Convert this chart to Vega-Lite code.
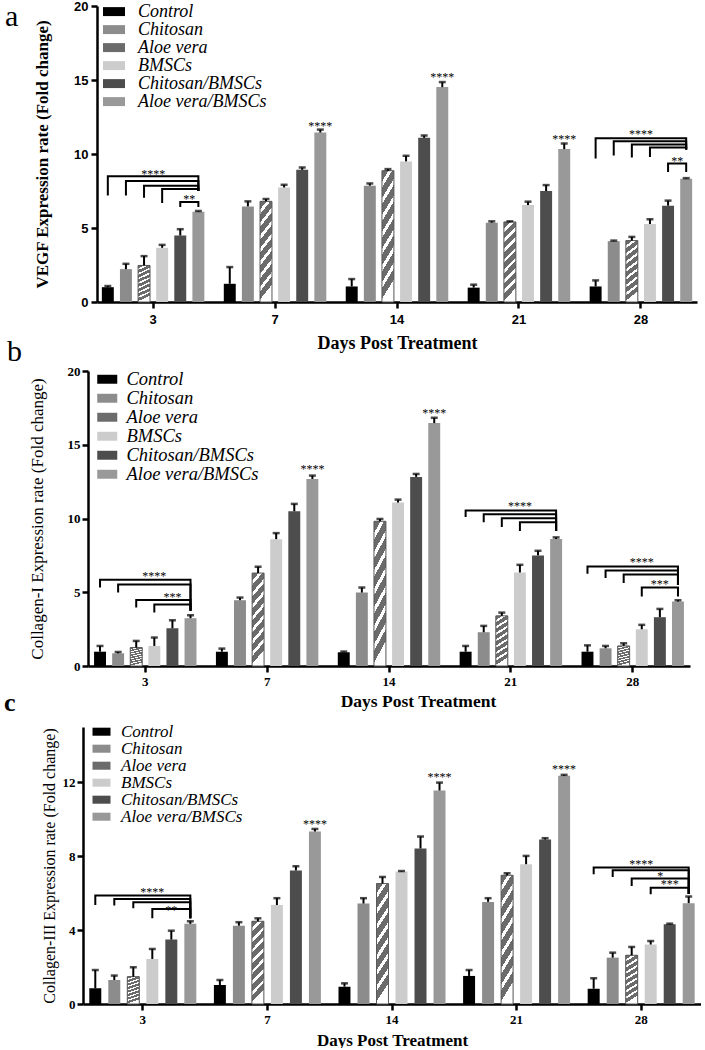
{
  "$schema": "https://vega.github.io/schema/vega-lite/v6.json",
  "padding": {"left": 4, "top": 0, "right": 0, "bottom": 0},
  "config": {
    "view": {"stroke": null},
    "axis": {"labelColor": "black", "domainColor": "black", "tickColor": "black", "titleColor": "black", "grid": false, "domainWidth": 2.5, "tickWidth": 2.5, "tickSize": 6}
  },
  "datasets": {
    "aBars": [
      {"day":"3","group":"Control","mean":1.0,"upper":1.08},
      {"day":"3","group":"Chitosan","mean":2.22,"upper":2.58},
      {"day":"3","group":"Aloe vera","mean":2.47,"upper":3.1},
      {"day":"3","group":"BMSCs","mean":3.66,"upper":3.86},
      {"day":"3","group":"Chitosan/BMSCs","mean":4.49,"upper":4.92},
      {"day":"3","group":"Aloe vera/BMSCs","mean":6.1,"upper":6.15},
      {"day":"7","group":"Control","mean":1.23,"upper":2.36},
      {"day":"7","group":"Chitosan","mean":6.46,"upper":6.8},
      {"day":"7","group":"Aloe vera","mean":6.8,"upper":6.96},
      {"day":"7","group":"BMSCs","mean":7.74,"upper":7.92},
      {"day":"7","group":"Chitosan/BMSCs","mean":8.93,"upper":9.09},
      {"day":"7","group":"Aloe vera/BMSCs","mean":11.45,"upper":11.65},
      {"day":"14","group":"Control","mean":1.05,"upper":1.55},
      {"day":"14","group":"Chitosan","mean":7.86,"upper":8.01},
      {"day":"14","group":"Aloe vera","mean":8.87,"upper":8.98},
      {"day":"14","group":"BMSCs","mean":9.5,"upper":9.88},
      {"day":"14","group":"Chitosan/BMSCs","mean":11.09,"upper":11.25},
      {"day":"14","group":"Aloe vera/BMSCs","mean":14.52,"upper":14.86},
      {"day":"21","group":"Control","mean":0.97,"upper":1.17},
      {"day":"21","group":"Chitosan","mean":5.36,"upper":5.45},
      {"day":"21","group":"Aloe vera","mean":5.41,"upper":5.45},
      {"day":"21","group":"BMSCs","mean":6.55,"upper":6.78},
      {"day":"21","group":"Chitosan/BMSCs","mean":7.5,"upper":7.9},
      {"day":"21","group":"Aloe vera/BMSCs","mean":10.33,"upper":10.71},
      {"day":"28","group":"Control","mean":1.05,"upper":1.46},
      {"day":"28","group":"Chitosan","mean":4.11,"upper":4.15},
      {"day":"28","group":"Aloe vera","mean":4.15,"upper":4.4},
      {"day":"28","group":"BMSCs","mean":5.27,"upper":5.59},
      {"day":"28","group":"Chitosan/BMSCs","mean":6.51,"upper":6.85},
      {"day":"28","group":"Aloe vera/BMSCs","mean":8.33,"upper":8.37}
    ],
    "aBr": [
      {"day":"3","id":1,"group":"Control","v":7.2,"o":1},{"day":"3","id":1,"group":"Control","v":8.5,"o":2},{"day":"3","id":1,"group":"Aloe vera/BMSCs","v":8.5,"o":3},{"day":"3","id":1,"group":"Aloe vera/BMSCs","v":7.5,"o":4},
      {"day":"3","id":2,"group":"Chitosan","v":7.2,"o":1},{"day":"3","id":2,"group":"Chitosan","v":8.17,"o":2},{"day":"3","id":2,"group":"Aloe vera/BMSCs","v":8.17,"o":3},{"day":"3","id":2,"group":"Aloe vera/BMSCs","v":7.5,"o":4},
      {"day":"3","id":3,"group":"Aloe vera","v":7.05,"o":1},{"day":"3","id":3,"group":"Aloe vera","v":7.86,"o":2},{"day":"3","id":3,"group":"Aloe vera/BMSCs","v":7.86,"o":3},{"day":"3","id":3,"group":"Aloe vera/BMSCs","v":7.5,"o":4},
      {"day":"3","id":4,"group":"BMSCs","v":6.69,"o":1},{"day":"3","id":4,"group":"BMSCs","v":7.63,"o":2},{"day":"3","id":4,"group":"Aloe vera/BMSCs","v":7.63,"o":3},{"day":"3","id":4,"group":"Aloe vera/BMSCs","v":7.5,"o":4},
      {"day":"3","id":5,"group":"Chitosan/BMSCs","v":6.42,"o":1},{"day":"3","id":5,"group":"Chitosan/BMSCs","v":6.75,"o":2},{"day":"3","id":5,"group":"Aloe vera/BMSCs","v":6.75,"o":3},{"day":"3","id":5,"group":"Aloe vera/BMSCs","v":6.42,"o":4},
      {"day":"28","id":6,"group":"Control","v":9.7,"o":1},{"day":"28","id":6,"group":"Control","v":11.06,"o":2},{"day":"28","id":6,"group":"Aloe vera/BMSCs","v":11.06,"o":3},{"day":"28","id":6,"group":"Aloe vera/BMSCs","v":10.3,"o":4},
      {"day":"28","id":7,"group":"Chitosan","v":9.9,"o":1},{"day":"28","id":7,"group":"Chitosan","v":10.86,"o":2},{"day":"28","id":7,"group":"Aloe vera/BMSCs","v":10.86,"o":3},{"day":"28","id":7,"group":"Aloe vera/BMSCs","v":10.3,"o":4},
      {"day":"28","id":8,"group":"Aloe vera","v":9.76,"o":1},{"day":"28","id":8,"group":"Aloe vera","v":10.64,"o":2},{"day":"28","id":8,"group":"Aloe vera/BMSCs","v":10.64,"o":3},{"day":"28","id":8,"group":"Aloe vera/BMSCs","v":10.3,"o":4},
      {"day":"28","id":9,"group":"BMSCs","v":9.8,"o":1},{"day":"28","id":9,"group":"BMSCs","v":10.44,"o":2},{"day":"28","id":9,"group":"Aloe vera/BMSCs","v":10.44,"o":3},{"day":"28","id":9,"group":"Aloe vera/BMSCs","v":10.3,"o":4},
      {"day":"28","id":10,"group":"Chitosan/BMSCs","v":8.78,"o":1},{"day":"28","id":10,"group":"Chitosan/BMSCs","v":9.35,"o":2},{"day":"28","id":10,"group":"Aloe vera/BMSCs","v":9.35,"o":3},{"day":"28","id":10,"group":"Aloe vera/BMSCs","v":8.78,"o":4}
    ],
    "aStars": [
      {"day":"3","group":"Aloe vera","v":8.77,"label":"****","pos":"mid"},
      {"day":"3","group":"Chitosan/BMSCs","v":7.09,"label":"**","pos":"mid"},
      {"day":"7","group":"Aloe vera/BMSCs","v":12.03,"label":"****","pos":"bar"},
      {"day":"14","group":"Aloe vera/BMSCs","v":15.35,"label":"****","pos":"bar"},
      {"day":"21","group":"Aloe vera/BMSCs","v":11.13,"label":"****","pos":"bar"},
      {"day":"28","group":"Aloe vera","v":11.47,"label":"****","pos":"mid"},
      {"day":"28","group":"Chitosan/BMSCs","v":9.67,"label":"**","pos":"mid"}
    ],
    "bBars": [
      {"day":"3","group":"Control","mean":0.97,"upper":1.36},
      {"day":"3","group":"Chitosan","mean":0.86,"upper":0.95},
      {"day":"3","group":"Aloe vera","mean":1.25,"upper":1.7},
      {"day":"3","group":"BMSCs","mean":1.36,"upper":1.93},
      {"day":"3","group":"Chitosan/BMSCs","mean":2.56,"upper":3.1},
      {"day":"3","group":"Aloe vera/BMSCs","mean":3.24,"upper":3.44},
      {"day":"7","group":"Control","mean":0.97,"upper":1.18},
      {"day":"7","group":"Chitosan","mean":4.46,"upper":4.64},
      {"day":"7","group":"Aloe vera","mean":6.3,"upper":6.73},
      {"day":"7","group":"BMSCs","mean":8.6,"upper":9.01},
      {"day":"7","group":"Chitosan/BMSCs","mean":10.49,"upper":10.99},
      {"day":"7","group":"Aloe vera/BMSCs","mean":12.68,"upper":12.91},
      {"day":"14","group":"Control","mean":0.93,"upper":0.98},
      {"day":"14","group":"Chitosan","mean":4.98,"upper":5.32},
      {"day":"14","group":"Aloe vera","mean":9.81,"upper":9.97},
      {"day":"14","group":"BMSCs","mean":11.08,"upper":11.28},
      {"day":"14","group":"Chitosan/BMSCs","mean":12.82,"upper":13.02},
      {"day":"14","group":"Aloe vera/BMSCs","mean":16.47,"upper":16.83},
      {"day":"21","group":"Control","mean":0.97,"upper":1.36},
      {"day":"21","group":"Chitosan","mean":2.29,"upper":2.72},
      {"day":"21","group":"Aloe vera","mean":3.4,"upper":3.62},
      {"day":"21","group":"BMSCs","mean":6.34,"upper":6.86},
      {"day":"21","group":"Chitosan/BMSCs","mean":7.5,"upper":7.81},
      {"day":"21","group":"Aloe vera/BMSCs","mean":8.61,"upper":8.72},
      {"day":"28","group":"Control","mean":0.97,"upper":1.4},
      {"day":"28","group":"Chitosan","mean":1.2,"upper":1.36},
      {"day":"28","group":"Aloe vera","mean":1.36,"upper":1.54},
      {"day":"28","group":"BMSCs","mean":2.49,"upper":2.79},
      {"day":"28","group":"Chitosan/BMSCs","mean":3.31,"upper":3.87},
      {"day":"28","group":"Aloe vera/BMSCs","mean":4.37,"upper":4.46}
    ],
    "bBr": [
      {"day":"3","id":1,"group":"Control","v":5.32,"o":1},{"day":"3","id":1,"group":"Control","v":5.84,"o":2},{"day":"3","id":1,"group":"Aloe vera/BMSCs","v":5.84,"o":3},{"day":"3","id":1,"group":"Aloe vera/BMSCs","v":3.74,"o":4},
      {"day":"3","id":2,"group":"Chitosan","v":4.98,"o":1},{"day":"3","id":2,"group":"Chitosan","v":5.53,"o":2},{"day":"3","id":2,"group":"Aloe vera/BMSCs","v":5.53,"o":3},{"day":"3","id":2,"group":"Aloe vera/BMSCs","v":3.74,"o":4},
      {"day":"3","id":3,"group":"Aloe vera","v":3.96,"o":1},{"day":"3","id":3,"group":"Aloe vera","v":4.48,"o":2},{"day":"3","id":3,"group":"Aloe vera/BMSCs","v":4.48,"o":3},{"day":"3","id":3,"group":"Aloe vera/BMSCs","v":3.74,"o":4},
      {"day":"3","id":4,"group":"BMSCs","v":3.62,"o":1},{"day":"3","id":4,"group":"BMSCs","v":4.17,"o":2},{"day":"3","id":4,"group":"Aloe vera/BMSCs","v":4.17,"o":3},{"day":"3","id":4,"group":"Aloe vera/BMSCs","v":3.74,"o":4},
      {"day":"21","id":5,"group":"Control","v":10.1,"o":1},{"day":"21","id":5,"group":"Control","v":10.55,"o":2},{"day":"21","id":5,"group":"Aloe vera/BMSCs","v":10.55,"o":3},{"day":"21","id":5,"group":"Aloe vera/BMSCs","v":9.15,"o":4},
      {"day":"21","id":6,"group":"Chitosan","v":9.74,"o":1},{"day":"21","id":6,"group":"Chitosan","v":10.28,"o":2},{"day":"21","id":6,"group":"Aloe vera/BMSCs","v":10.28,"o":3},{"day":"21","id":6,"group":"Aloe vera/BMSCs","v":9.15,"o":4},
      {"day":"21","id":7,"group":"Aloe vera","v":9.42,"o":1},{"day":"21","id":7,"group":"Aloe vera","v":10.01,"o":2},{"day":"21","id":7,"group":"Aloe vera/BMSCs","v":10.01,"o":3},{"day":"21","id":7,"group":"Aloe vera/BMSCs","v":9.15,"o":4},
      {"day":"21","id":8,"group":"BMSCs","v":9.15,"o":1},{"day":"21","id":8,"group":"BMSCs","v":9.74,"o":2},{"day":"21","id":8,"group":"Aloe vera/BMSCs","v":9.74,"o":3},{"day":"21","id":8,"group":"Aloe vera/BMSCs","v":9.15,"o":4},
      {"day":"28","id":9,"group":"Control","v":6.25,"o":1},{"day":"28","id":9,"group":"Control","v":6.75,"o":2},{"day":"28","id":9,"group":"Aloe vera/BMSCs","v":6.75,"o":3},{"day":"28","id":9,"group":"Aloe vera/BMSCs","v":5.5,"o":4},
      {"day":"28","id":10,"group":"Chitosan","v":5.96,"o":1},{"day":"28","id":10,"group":"Chitosan","v":6.48,"o":2},{"day":"28","id":10,"group":"Aloe vera/BMSCs","v":6.48,"o":3},{"day":"28","id":10,"group":"Aloe vera/BMSCs","v":5.5,"o":4},
      {"day":"28","id":11,"group":"Aloe vera","v":5.62,"o":1},{"day":"28","id":11,"group":"Aloe vera","v":6.21,"o":2},{"day":"28","id":11,"group":"Aloe vera/BMSCs","v":6.21,"o":3},{"day":"28","id":11,"group":"Aloe vera/BMSCs","v":5.5,"o":4},
      {"day":"28","id":12,"group":"BMSCs","v":4.71,"o":1},{"day":"28","id":12,"group":"BMSCs","v":5.32,"o":2},{"day":"28","id":12,"group":"Aloe vera/BMSCs","v":5.32,"o":3},{"day":"28","id":12,"group":"Aloe vera/BMSCs","v":4.71,"o":4}
    ],
    "bStars": [
      {"day":"3","group":"BMSCs","v":6.23,"label":"****","pos":"bar"},
      {"day":"3","group":"Chitosan/BMSCs","v":4.82,"label":"***","pos":"bar"},
      {"day":"7","group":"Aloe vera/BMSCs","v":13.48,"label":"****","pos":"bar"},
      {"day":"14","group":"Aloe vera/BMSCs","v":17.28,"label":"****","pos":"bar"},
      {"day":"21","group":"BMSCs","v":11.0,"label":"****","pos":"bar"},
      {"day":"28","group":"BMSCs","v":7.2,"label":"****","pos":"bar"},
      {"day":"28","group":"Chitosan/BMSCs","v":5.69,"label":"***","pos":"bar"}
    ],
    "cBars": [
      {"day":"3","group":"Control","mean":0.85,"upper":1.84},
      {"day":"3","group":"Chitosan","mean":1.3,"upper":1.54},
      {"day":"3","group":"Aloe vera","mean":1.48,"upper":1.99},
      {"day":"3","group":"BMSCs","mean":2.44,"upper":2.98},
      {"day":"3","group":"Chitosan/BMSCs","mean":3.49,"upper":3.97},
      {"day":"3","group":"Aloe vera/BMSCs","mean":4.34,"upper":4.48},
      {"day":"7","group":"Control","mean":1.03,"upper":1.3},
      {"day":"7","group":"Chitosan","mean":4.24,"upper":4.43},
      {"day":"7","group":"Aloe vera","mean":4.48,"upper":4.64},
      {"day":"7","group":"BMSCs","mean":5.36,"upper":5.73},
      {"day":"7","group":"Chitosan/BMSCs","mean":7.23,"upper":7.46},
      {"day":"7","group":"Aloe vera/BMSCs","mean":9.34,"upper":9.48},
      {"day":"14","group":"Control","mean":0.94,"upper":1.12},
      {"day":"14","group":"Chitosan","mean":5.44,"upper":5.73},
      {"day":"14","group":"Aloe vera","mean":6.52,"upper":6.88},
      {"day":"14","group":"BMSCs","mean":7.17,"upper":7.2},
      {"day":"14","group":"Chitosan/BMSCs","mean":8.42,"upper":9.07},
      {"day":"14","group":"Aloe vera/BMSCs","mean":11.56,"upper":11.99},
      {"day":"21","group":"Control","mean":1.52,"upper":1.84},
      {"day":"21","group":"Chitosan","mean":5.53,"upper":5.73},
      {"day":"21","group":"Aloe vera","mean":6.97,"upper":7.08},
      {"day":"21","group":"BMSCs","mean":7.57,"upper":8.02},
      {"day":"21","group":"Chitosan/BMSCs","mean":8.91,"upper":8.98},
      {"day":"21","group":"Aloe vera/BMSCs","mean":12.36,"upper":12.41},
      {"day":"28","group":"Control","mean":0.83,"upper":1.39},
      {"day":"28","group":"Chitosan","mean":2.51,"upper":2.78},
      {"day":"28","group":"Aloe vera","mean":2.64,"upper":3.09},
      {"day":"28","group":"BMSCs","mean":3.22,"upper":3.41},
      {"day":"28","group":"Chitosan/BMSCs","mean":4.32,"upper":4.35},
      {"day":"28","group":"Aloe vera/BMSCs","mean":5.46,"upper":5.82}
    ],
    "cBr": [
      {"day":"3","id":1,"group":"Control","v":5.36,"o":1},{"day":"3","id":1,"group":"Control","v":5.87,"o":2},{"day":"3","id":1,"group":"Aloe vera/BMSCs","v":5.87,"o":3},{"day":"3","id":1,"group":"Aloe vera/BMSCs","v":4.64,"o":4},
      {"day":"3","id":2,"group":"Chitosan","v":5.33,"o":1},{"day":"3","id":2,"group":"Chitosan","v":5.69,"o":2},{"day":"3","id":2,"group":"Aloe vera/BMSCs","v":5.69,"o":3},{"day":"3","id":2,"group":"Aloe vera/BMSCs","v":4.64,"o":4},
      {"day":"3","id":3,"group":"Aloe vera","v":5.18,"o":1},{"day":"3","id":3,"group":"Aloe vera","v":5.51,"o":2},{"day":"3","id":3,"group":"Aloe vera/BMSCs","v":5.51,"o":3},{"day":"3","id":3,"group":"Aloe vera/BMSCs","v":4.64,"o":4},
      {"day":"3","id":4,"group":"BMSCs","v":4.64,"o":1},{"day":"3","id":4,"group":"BMSCs","v":5.15,"o":2},{"day":"3","id":4,"group":"Aloe vera/BMSCs","v":5.15,"o":3},{"day":"3","id":4,"group":"Aloe vera/BMSCs","v":4.64,"o":4},
      {"day":"28","id":5,"group":"Control","v":7.03,"o":1},{"day":"28","id":5,"group":"Control","v":7.39,"o":2},{"day":"28","id":5,"group":"Aloe vera/BMSCs","v":7.39,"o":3},{"day":"28","id":5,"group":"Aloe vera/BMSCs","v":5.95,"o":4},
      {"day":"28","id":6,"group":"Chitosan","v":6.88,"o":1},{"day":"28","id":6,"group":"Chitosan","v":7.24,"o":2},{"day":"28","id":6,"group":"Aloe vera/BMSCs","v":7.24,"o":3},{"day":"28","id":6,"group":"Aloe vera/BMSCs","v":5.95,"o":4},
      {"day":"28","id":7,"group":"Aloe vera","v":6.39,"o":1},{"day":"28","id":7,"group":"Aloe vera","v":6.79,"o":2},{"day":"28","id":7,"group":"Aloe vera/BMSCs","v":6.79,"o":3},{"day":"28","id":7,"group":"Aloe vera/BMSCs","v":5.95,"o":4},
      {"day":"28","id":8,"group":"BMSCs","v":5.94,"o":1},{"day":"28","id":8,"group":"BMSCs","v":6.3,"o":2},{"day":"28","id":8,"group":"Aloe vera/BMSCs","v":6.3,"o":3},{"day":"28","id":8,"group":"Aloe vera/BMSCs","v":5.95,"o":4}
    ],
    "cStars": [
      {"day":"3","group":"BMSCs","v":6.2,"label":"****","pos":"bar"},
      {"day":"3","group":"Chitosan/BMSCs","v":5.22,"label":"**","pos":"bar"},
      {"day":"7","group":"Aloe vera/BMSCs","v":9.84,"label":"****","pos":"bar"},
      {"day":"14","group":"Aloe vera/BMSCs","v":12.39,"label":"****","pos":"bar"},
      {"day":"21","group":"Aloe vera/BMSCs","v":12.81,"label":"****","pos":"bar"},
      {"day":"28","group":"Aloe vera","v":7.7,"label":"****","pos":"mid"},
      {"day":"28","group":"BMSCs","v":7.06,"label":"*","pos":"mid"},
      {"day":"28","group":"Chitosan/BMSCs","v":6.58,"label":"***","pos":"bar"}
    ]
  },
  "columns": 1,
  "spacing": -15,
  "resolve": {"scale": {"x": "independent", "y": "independent", "xOffset": "independent", "color": "independent"}, "legend": {"color": "independent"}},
  "concat": [
    {
      "width": 614, "height": 296,
      "title": {"text": "a", "anchor": "start", "frame": "group", "orient": "top", "dx": -78, "dy": 56, "offset": 0, "font": "Liberation Serif", "fontSize": 30, "fontWeight": "normal", "color": "black", "baseline": "alphabetic"},
      "layer": [
        {
          "data": {"name": "aBars"},
          "mark": {"type": "bar"},
          "encoding": {
            "x": {"field": "day", "type": "nominal", "title": "Days Post Treatment", "scale": {"domain": ["3","7","14","21","28"], "range": [14, 614], "paddingInner": 0.1, "paddingOuter": 0.01},
                  "axis": {"labelAngle": 0, "labelFont": "Liberation Sans", "labelFontWeight": "bold", "labelFontSize": 13, "labelPadding": 5, "titleFont": "Liberation Serif", "titleFontSize": 18, "titleFontWeight": "bold", "titlePadding": 8, "titleX": 314}},
            "xOffset": {"field": "group", "type": "nominal", "scale": {"domain": ["Control","Chitosan","Aloe vera","BMSCs","Chitosan/BMSCs","Aloe vera/BMSCs"], "paddingInner": 0.34, "paddingOuter": 0.2}},
            "y": {"field": "mean", "type": "quantitative", "title": "VEGF Expression rate (Fold change)", "scale": {"domain": [0, 20], "nice": false},
                  "axis": {"offset": -14, "values": [0,5,10,15,20], "labelFont": "Liberation Sans", "labelFontWeight": "bold", "labelFontSize": 13, "labelPadding": 3, "titleFont": "Liberation Serif", "titleFontSize": 17, "titleFontWeight": "bold", "titlePadding": 22}},
            "color": {"field": "group", "type": "nominal",
                      "scale": {"domain": ["Control","Chitosan","Aloe vera","BMSCs","Chitosan/BMSCs","Aloe vera/BMSCs"], "range": ["#000000", "#8c8c8c", "#6b6b6b", "#cccccc", "#4d4d4d", "#999999"]},
                      "legend": {"orient": "none", "legendX": 22, "legendY": -3.4, "title": null, "symbolType": "M-1.57,-0.64H1.57V0.64H-1.57Z", "symbolSize": 196, "symbolStrokeWidth": 0, "symbolOpacity": 1, "labelFont": "Liberation Serif", "labelFontStyle": "italic", "labelFontSize": 18, "labelOffset": 15, "rowPadding": -3.2, "padding": 0, "labelColor": "black"}}
          }
        },
        {
          "data": {"name": "aBars"},
          "transform": [{"filter": "datum.group === 'Aloe vera'"}],
          "mark": {"type": "bar", "color": {"gradient": "linear", "x1": 0, "y1": 0, "x2": 0.15, "y2": 1, "stops": [
            {"offset": 0, "color": "#6b6b6b"}, {"offset": 0.08, "color": "#6b6b6b"}, {"offset": 0.08, "color": "#ffffff"}, {"offset": 0.125, "color": "#ffffff"},
            {"offset": 0.125, "color": "#6b6b6b"}, {"offset": 0.205, "color": "#6b6b6b"}, {"offset": 0.205, "color": "#ffffff"}, {"offset": 0.25, "color": "#ffffff"},
            {"offset": 0.25, "color": "#6b6b6b"}, {"offset": 0.33, "color": "#6b6b6b"}, {"offset": 0.33, "color": "#ffffff"}, {"offset": 0.375, "color": "#ffffff"},
            {"offset": 0.375, "color": "#6b6b6b"}, {"offset": 0.455, "color": "#6b6b6b"}, {"offset": 0.455, "color": "#ffffff"}, {"offset": 0.5, "color": "#ffffff"},
            {"offset": 0.5, "color": "#6b6b6b"}, {"offset": 0.58, "color": "#6b6b6b"}, {"offset": 0.58, "color": "#ffffff"}, {"offset": 0.625, "color": "#ffffff"},
            {"offset": 0.625, "color": "#6b6b6b"}, {"offset": 0.705, "color": "#6b6b6b"}, {"offset": 0.705, "color": "#ffffff"}, {"offset": 0.75, "color": "#ffffff"},
            {"offset": 0.75, "color": "#6b6b6b"}, {"offset": 0.83, "color": "#6b6b6b"}, {"offset": 0.83, "color": "#ffffff"}, {"offset": 0.875, "color": "#ffffff"},
            {"offset": 0.875, "color": "#6b6b6b"}, {"offset": 0.955, "color": "#6b6b6b"}, {"offset": 0.955, "color": "#ffffff"}, {"offset": 1, "color": "#ffffff"}]}, "stroke": "#5a5a5a", "strokeWidth": 1},
          "encoding": {"x": {"field": "day", "type": "nominal"}, "xOffset": {"field": "group", "type": "nominal"}, "y": {"field": "mean", "type": "quantitative"}}
        },
        {
          "data": {"name": "aBars"},
          "mark": {"type": "rule", "color": "black", "strokeWidth": 2},
          "encoding": {"x": {"field": "day", "type": "nominal"}, "xOffset": {"field": "group", "type": "nominal"}, "y": {"field": "mean", "type": "quantitative"}, "y2": {"field": "upper"}}
        },
        {
          "data": {"name": "aBars"},
          "mark": {"type": "tick", "color": "black", "size": 7, "thickness": 2.5, "orient": "horizontal"},
          "encoding": {"x": {"field": "day", "type": "nominal"}, "xOffset": {"field": "group", "type": "nominal"}, "y": {"field": "upper", "type": "quantitative"}}
        },
        {
          "data": {"name": "aBr"},
          "mark": {"type": "line", "color": "black", "strokeWidth": 2},
          "encoding": {"x": {"field": "day", "type": "nominal"}, "xOffset": {"field": "group", "type": "nominal"}, "y": {"field": "v", "type": "quantitative"}, "detail": {"field": "id"}, "order": {"field": "o"}}
        },
        {
          "data": {"name": "aStars"},
          "transform": [{"filter": "datum.pos == 'bar'"}],
          "mark": {"type": "text", "font": "Liberation Serif", "fontSize": 12, "color": "black", "baseline": "alphabetic", "dy": 6},
          "encoding": {"x": {"field": "day", "type": "nominal"}, "xOffset": {"field": "group", "type": "nominal"}, "y": {"field": "v", "type": "quantitative"}, "text": {"field": "label"}}
        },
        {
          "data": {"name": "aStars"},
          "transform": [{"filter": "datum.pos == 'mid'"}],
          "mark": {"type": "text", "font": "Liberation Serif", "fontSize": 12, "color": "black", "baseline": "alphabetic", "dy": 6, "dx": 9.1},
          "encoding": {"x": {"field": "day", "type": "nominal"}, "xOffset": {"field": "group", "type": "nominal"}, "y": {"field": "v", "type": "quantitative"}, "text": {"field": "label"}}
        }
      ]
    },
    {
      "columns": 1,
      "spacing": -20,
      "resolve": {"scale": {"x": "independent", "y": "independent", "xOffset": "independent", "color": "independent"}, "legend": {"color": "independent"}},
      "concat": [
        {
          "width": 607, "height": 295,
          "title": {"text": "b", "anchor": "start", "frame": "group", "orient": "top", "dx": -76, "offset": -26, "font": "Liberation Serif", "fontSize": 30, "fontWeight": "normal", "color": "black", "baseline": "alphabetic"},
          "layer": [
            {
              "data": {"name": "bBars"},
              "mark": {"type": "bar"},
              "encoding": {
                "x": {"field": "day", "type": "nominal", "title": "Days Post Treatment", "scale": {"domain": ["3","7","14","21","28"], "range": [5, 607], "paddingInner": 0.1, "paddingOuter": 0.02},
                      "axis": {"labelAngle": 0, "labelFont": "Liberation Serif", "labelFontWeight": "bold", "labelFontSize": 13, "labelPadding": 3, "titleFont": "Liberation Serif", "titleFontSize": 17.5, "titleFontWeight": "bold", "titlePadding": 4, "titleX": 335}},
                "xOffset": {"field": "group", "type": "nominal", "scale": {"domain": ["Control","Chitosan","Aloe vera","BMSCs","Chitosan/BMSCs","Aloe vera/BMSCs"], "paddingInner": 0.34, "paddingOuter": 0.2}},
                "y": {"field": "mean", "type": "quantitative", "title": "Collagen-I Expression rate (Fold change)", "scale": {"domain": [0, 20], "nice": false},
                      "axis": {"offset": -5, "values": [0,5,10,15,20], "labelFont": "Liberation Serif", "labelFontWeight": "bold", "labelFontSize": 13, "labelPadding": 2, "titleFont": "Liberation Serif", "titleFontSize": 17, "titleFontWeight": "normal", "titlePadding": 21}},
                "color": {"field": "group", "type": "nominal",
                          "scale": {"domain": ["Control","Chitosan","Aloe vera","BMSCs","Chitosan/BMSCs","Aloe vera/BMSCs"], "range": ["#000000", "#8c8c8c", "#6b6b6b", "#cccccc", "#4d4d4d", "#999999"]},
                          "legend": {"orient": "none", "legendX": 15, "legendY": -1, "title": null, "symbolType": "M-1.43,-0.64H1.43V0.64H-1.43Z", "symbolSize": 196, "symbolStrokeWidth": 0, "symbolOpacity": 1, "labelFont": "Liberation Serif", "labelFontStyle": "italic", "labelFontSize": 18.5, "labelOffset": 10, "rowPadding": -2.9, "padding": 0, "labelColor": "black"}}
              }
            },
            {
              "data": {"name": "bBars"},
              "transform": [{"filter": "datum.group === 'Aloe vera'"}],
              "mark": {"type": "bar", "color": {"gradient": "linear", "x1": 0, "y1": 0, "x2": 0.15, "y2": 1, "stops": [
                {"offset": 0, "color": "#6b6b6b"}, {"offset": 0.08, "color": "#6b6b6b"}, {"offset": 0.08, "color": "#ffffff"}, {"offset": 0.125, "color": "#ffffff"},
                {"offset": 0.125, "color": "#6b6b6b"}, {"offset": 0.205, "color": "#6b6b6b"}, {"offset": 0.205, "color": "#ffffff"}, {"offset": 0.25, "color": "#ffffff"},
                {"offset": 0.25, "color": "#6b6b6b"}, {"offset": 0.33, "color": "#6b6b6b"}, {"offset": 0.33, "color": "#ffffff"}, {"offset": 0.375, "color": "#ffffff"},
                {"offset": 0.375, "color": "#6b6b6b"}, {"offset": 0.455, "color": "#6b6b6b"}, {"offset": 0.455, "color": "#ffffff"}, {"offset": 0.5, "color": "#ffffff"},
                {"offset": 0.5, "color": "#6b6b6b"}, {"offset": 0.58, "color": "#6b6b6b"}, {"offset": 0.58, "color": "#ffffff"}, {"offset": 0.625, "color": "#ffffff"},
                {"offset": 0.625, "color": "#6b6b6b"}, {"offset": 0.705, "color": "#6b6b6b"}, {"offset": 0.705, "color": "#ffffff"}, {"offset": 0.75, "color": "#ffffff"},
                {"offset": 0.75, "color": "#6b6b6b"}, {"offset": 0.83, "color": "#6b6b6b"}, {"offset": 0.83, "color": "#ffffff"}, {"offset": 0.875, "color": "#ffffff"},
                {"offset": 0.875, "color": "#6b6b6b"}, {"offset": 0.955, "color": "#6b6b6b"}, {"offset": 0.955, "color": "#ffffff"}, {"offset": 1, "color": "#ffffff"}]}, "stroke": "#5a5a5a", "strokeWidth": 1},
              "encoding": {"x": {"field": "day", "type": "nominal"}, "xOffset": {"field": "group", "type": "nominal"}, "y": {"field": "mean", "type": "quantitative"}}
            },
            {
              "data": {"name": "bBars"},
              "mark": {"type": "rule", "color": "black", "strokeWidth": 2},
              "encoding": {"x": {"field": "day", "type": "nominal"}, "xOffset": {"field": "group", "type": "nominal"}, "y": {"field": "mean", "type": "quantitative"}, "y2": {"field": "upper"}}
            },
            {
              "data": {"name": "bBars"},
              "mark": {"type": "tick", "color": "black", "size": 7, "thickness": 2.5, "orient": "horizontal"},
              "encoding": {"x": {"field": "day", "type": "nominal"}, "xOffset": {"field": "group", "type": "nominal"}, "y": {"field": "upper", "type": "quantitative"}}
            },
            {
              "data": {"name": "bBr"},
              "mark": {"type": "line", "color": "black", "strokeWidth": 2},
              "encoding": {"x": {"field": "day", "type": "nominal"}, "xOffset": {"field": "group", "type": "nominal"}, "y": {"field": "v", "type": "quantitative"}, "detail": {"field": "id"}, "order": {"field": "o"}}
            },
            {
              "data": {"name": "bStars"},
              "mark": {"type": "text", "font": "Liberation Serif", "fontSize": 12, "color": "black", "baseline": "alphabetic", "dy": 6},
              "encoding": {"x": {"field": "day", "type": "nominal"}, "xOffset": {"field": "group", "type": "nominal"}, "y": {"field": "v", "type": "quantitative"}, "text": {"field": "label"}}
            }
          ]
        },
        {
          "width": 618, "height": 277,
          "title": {"text": "c", "anchor": "start", "frame": "group", "orient": "top", "dx": -79, "offset": -14, "font": "Liberation Serif", "fontSize": 26, "fontWeight": "bold", "color": "black", "baseline": "alphabetic"},
          "layer": [
            {
              "data": {"name": "cBars"},
              "mark": {"type": "bar"},
              "encoding": {
                "x": {"field": "day", "type": "nominal", "title": "Days Post Treatment", "scale": {"domain": ["3","7","14","21","28"], "paddingInner": 0.1, "paddingOuter": 0.03},
                      "axis": {"labelAngle": 0, "labelFont": "Liberation Serif", "labelFontWeight": "bold", "labelFontSize": 13, "labelPadding": 3, "titleFont": "Liberation Serif", "titleFontSize": 17, "titleFontWeight": "bold", "titlePadding": 6}},
                "xOffset": {"field": "group", "type": "nominal", "scale": {"domain": ["Control","Chitosan","Aloe vera","BMSCs","Chitosan/BMSCs","Aloe vera/BMSCs"], "paddingInner": 0.37, "paddingOuter": 0.135}},
                "y": {"field": "mean", "type": "quantitative", "title": "Collagen-III Expression rate (Fold change)", "scale": {"domain": [0, 15], "nice": false},
                      "axis": {"values": [0,2,4,6,8,10,12,14], "labelFont": "Liberation Serif", "labelFontWeight": "bold", "labelFontSize": 13, "labelPadding": 2, "titleFont": "Liberation Serif", "titleFontSize": 16, "titleFontWeight": "normal", "titlePadding": 5}},
                "color": {"field": "group", "type": "nominal",
                          "scale": {"domain": ["Control","Chitosan","Aloe vera","BMSCs","Chitosan/BMSCs","Aloe vera/BMSCs"], "range": ["#000000", "#8c8c8c", "#6b6b6b", "#cccccc", "#4d4d4d", "#999999"]},
                          "legend": {"orient": "none", "legendX": 10, "legendY": -3.8, "title": null, "symbolType": "M-1.5,-0.67H1.5V0.67H-1.5Z", "symbolSize": 144, "symbolStrokeWidth": 0, "symbolOpacity": 1, "labelFont": "Liberation Serif", "labelFontStyle": "italic", "labelFontSize": 17, "labelOffset": 11, "rowPadding": -4.4, "padding": 0, "labelColor": "black"}}
              }
            },
            {
              "data": {"name": "cBars"},
              "transform": [{"filter": "datum.group === 'Aloe vera'"}],
              "mark": {"type": "bar", "color": {"gradient": "linear", "x1": 0, "y1": 0, "x2": 0.15, "y2": 1, "stops": [
                {"offset": 0, "color": "#6b6b6b"}, {"offset": 0.08, "color": "#6b6b6b"}, {"offset": 0.08, "color": "#ffffff"}, {"offset": 0.125, "color": "#ffffff"},
                {"offset": 0.125, "color": "#6b6b6b"}, {"offset": 0.205, "color": "#6b6b6b"}, {"offset": 0.205, "color": "#ffffff"}, {"offset": 0.25, "color": "#ffffff"},
                {"offset": 0.25, "color": "#6b6b6b"}, {"offset": 0.33, "color": "#6b6b6b"}, {"offset": 0.33, "color": "#ffffff"}, {"offset": 0.375, "color": "#ffffff"},
                {"offset": 0.375, "color": "#6b6b6b"}, {"offset": 0.455, "color": "#6b6b6b"}, {"offset": 0.455, "color": "#ffffff"}, {"offset": 0.5, "color": "#ffffff"},
                {"offset": 0.5, "color": "#6b6b6b"}, {"offset": 0.58, "color": "#6b6b6b"}, {"offset": 0.58, "color": "#ffffff"}, {"offset": 0.625, "color": "#ffffff"},
                {"offset": 0.625, "color": "#6b6b6b"}, {"offset": 0.705, "color": "#6b6b6b"}, {"offset": 0.705, "color": "#ffffff"}, {"offset": 0.75, "color": "#ffffff"},
                {"offset": 0.75, "color": "#6b6b6b"}, {"offset": 0.83, "color": "#6b6b6b"}, {"offset": 0.83, "color": "#ffffff"}, {"offset": 0.875, "color": "#ffffff"},
                {"offset": 0.875, "color": "#6b6b6b"}, {"offset": 0.955, "color": "#6b6b6b"}, {"offset": 0.955, "color": "#ffffff"}, {"offset": 1, "color": "#ffffff"}]}, "stroke": "#5a5a5a", "strokeWidth": 1},
              "encoding": {"x": {"field": "day", "type": "nominal"}, "xOffset": {"field": "group", "type": "nominal"}, "y": {"field": "mean", "type": "quantitative"}}
            },
            {
              "data": {"name": "cBars"},
              "mark": {"type": "rule", "color": "black", "strokeWidth": 2},
              "encoding": {"x": {"field": "day", "type": "nominal"}, "xOffset": {"field": "group", "type": "nominal"}, "y": {"field": "mean", "type": "quantitative"}, "y2": {"field": "upper"}}
            },
            {
              "data": {"name": "cBars"},
              "mark": {"type": "tick", "color": "black", "size": 7, "thickness": 2.5, "orient": "horizontal"},
              "encoding": {"x": {"field": "day", "type": "nominal"}, "xOffset": {"field": "group", "type": "nominal"}, "y": {"field": "upper", "type": "quantitative"}}
            },
            {
              "data": {"name": "cBr"},
              "mark": {"type": "line", "color": "black", "strokeWidth": 2},
              "encoding": {"x": {"field": "day", "type": "nominal"}, "xOffset": {"field": "group", "type": "nominal"}, "y": {"field": "v", "type": "quantitative"}, "detail": {"field": "id"}, "order": {"field": "o"}}
            },
            {
              "data": {"name": "cStars"},
              "transform": [{"filter": "datum.pos == 'bar'"}],
              "mark": {"type": "text", "font": "Liberation Serif", "fontSize": 12, "color": "black", "baseline": "alphabetic", "dy": 6},
              "encoding": {"x": {"field": "day", "type": "nominal"}, "xOffset": {"field": "group", "type": "nominal"}, "y": {"field": "v", "type": "quantitative"}, "text": {"field": "label"}}
            },
            {
              "data": {"name": "cStars"},
              "transform": [{"filter": "datum.pos == 'mid'"}],
              "mark": {"type": "text", "font": "Liberation Serif", "fontSize": 12, "color": "black", "baseline": "alphabetic", "dy": 6, "dx": 9.5},
              "encoding": {"x": {"field": "day", "type": "nominal"}, "xOffset": {"field": "group", "type": "nominal"}, "y": {"field": "v", "type": "quantitative"}, "text": {"field": "label"}}
            }
          ]
        }
      ]
    }
  ]
}
